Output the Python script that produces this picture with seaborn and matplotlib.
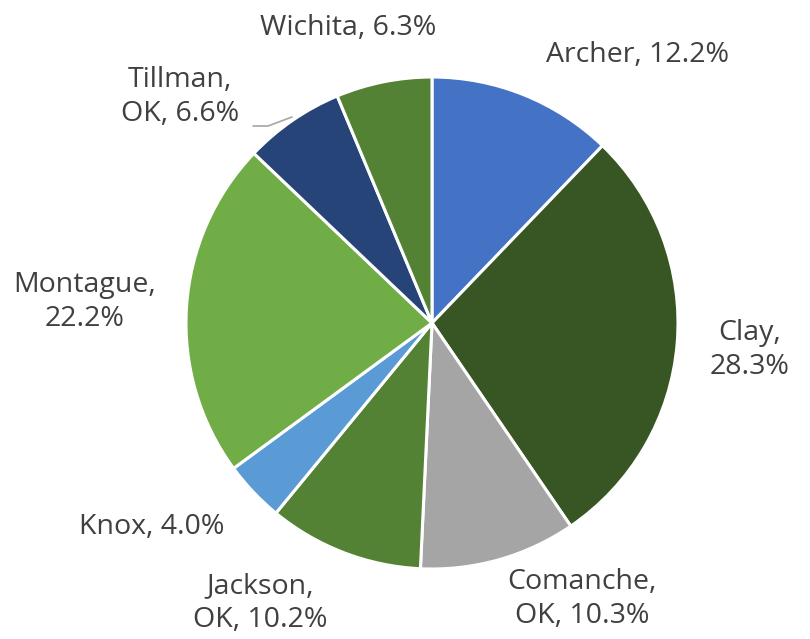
import matplotlib
matplotlib.use("Agg")
import matplotlib.pyplot as plt
import seaborn as sns

counties = ["Archer", "Clay", "Comanche,\nOK", "Jackson,\nOK", "Knox",
            "Montague", "Tillman,\nOK", "Wichita"]
shares = [12.2, 28.3, 10.3, 10.2, 4.0, 22.2, 6.6, 6.3]
colors = ["#4472C4", "#375623", "#A5A5A5", "#548235", "#5B9BD5",
          "#70AD47", "#264478", "#548235"]

# label text layout (pixel positions, y from top)
label_text = ["Archer, 12.2%", "Clay,\n28.3%", "Comanche,\nOK, 10.3%",
              "Jackson,\nOK, 10.2%", "Knox, 4.0%", "Montague,\n22.2%",
              "Tillman,\nOK, 6.6%", "Wichita, 6.3%"]
label_pos = [(638, 55), (750, 350), (582, 599), (260, 603), (152, 527),
             (85, 302), (180, 97), (348, 28)]

sns.set_theme(style="white")
plt.rcParams['font.family'] = ['Open Sans', 'DejaVu Sans']

W, H = 810, 639
fig = plt.figure(figsize=(W / 100, H / 100), dpi=100)
ax = fig.add_axes([0, 0, 1, 1])

ax.pie(shares, colors=colors, startangle=90, counterclock=False,
       center=(432, H - 323), radius=246,
       wedgeprops=dict(edgecolor="white", linewidth=2.2))

# pie() resets the limits, so set them afterwards
ax.set_xlim(0, W)
ax.set_ylim(0, H)
ax.set_aspect("equal")
ax.axis("off")

for txt, (x, y) in zip(label_text, label_pos):
    ax.text(x, H - y, txt, ha="center", va="center", fontsize=20.5,
            color="#404040", linespacing=1.25)

# leader line for Tillman
ax.plot([253, 268, 292], [H - 126, H - 126, H - 117], color="#A6A6A6", lw=1.2)

fig.savefig("out.png", dpi=100)
